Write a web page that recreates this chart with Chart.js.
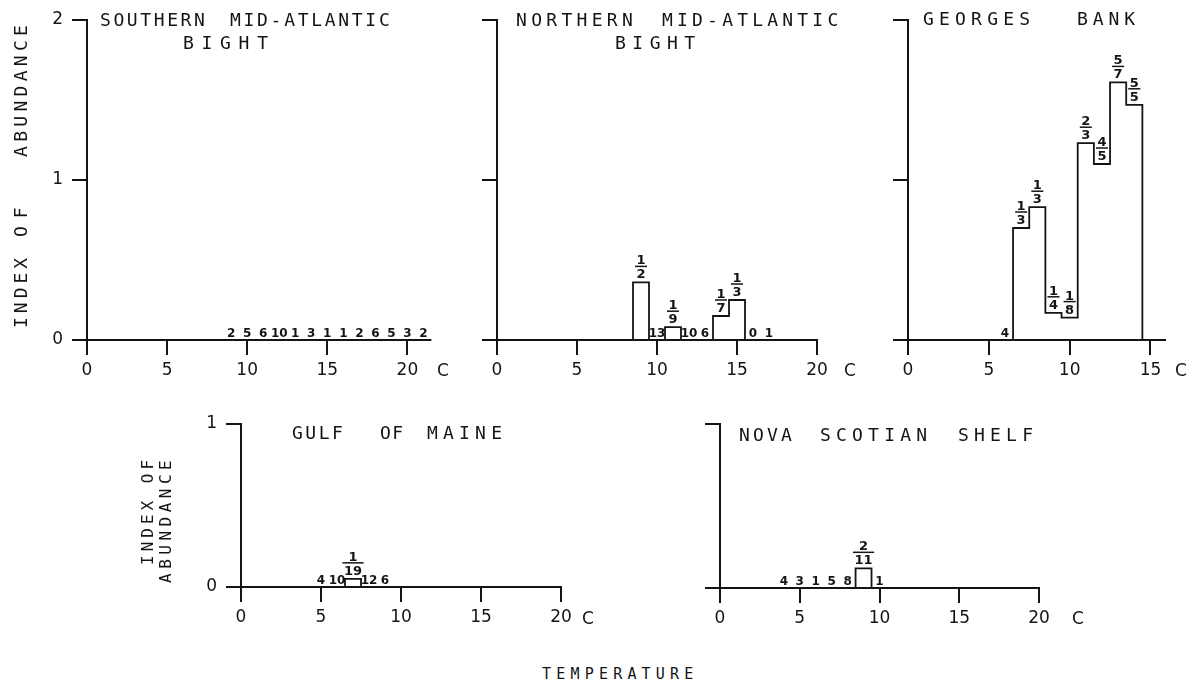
<!DOCTYPE html>
<html>
<head>
<meta charset="utf-8">
<script src="https://cdn.jsdelivr.net/npm/chart.js@4.4.1/dist/chart.umd.min.js"></script>
<style>
  body { margin: 0; background: #fff; }
  #fig { position: relative; width: 1187px; height: 684px; overflow: hidden; color: #141414; }
  canvas { position: absolute; }
  .w { position: absolute; white-space: pre; font-family: 'DejaVu Sans Mono', monospace; font-size: 18px; line-height: 18px; }
  .u { position: absolute; font-family: 'DejaVu Sans', sans-serif; font-size: 17px; line-height: 20px; transform: translateX(-50%); }
  .rot { position: absolute; left: 0; top: 0; transform-origin: 0 0; }
</style>
</head>
<body>
<div id="fig">
  <canvas id="sab"></canvas>
  <canvas id="nab"></canvas>
  <canvas id="gb"></canvas>
  <canvas id="gom"></canvas>
  <canvas id="nss"></canvas>

  <!-- panel titles -->
  <span class="w" style="left:100px;top:11px;letter-spacing:2.6px">SOUTHERN</span>
  <span class="w" style="left:230px;top:11px;letter-spacing:2.7px">MID-ATLANTIC</span>
  <span class="w" style="left:183px;top:34px;letter-spacing:7.7px">BIGHT</span>

  <span class="w" style="left:516px;top:11px;letter-spacing:4.3px">NORTHERN</span>
  <span class="w" style="left:662px;top:11px;letter-spacing:4.2px">MID-ATLANTIC</span>
  <span class="w" style="left:615px;top:34px;letter-spacing:6.5px">BIGHT</span>

  <span class="w" style="left:923px;top:10px;letter-spacing:5.2px">GEORGES</span>
  <span class="w" style="left:1077px;top:10px;letter-spacing:4.9px">BANK</span>

  <span class="w" style="left:292px;top:424px;letter-spacing:2.5px">GULF</span>
  <span class="w" style="left:380px;top:424px;letter-spacing:1.3px">OF</span>
  <span class="w" style="left:427px;top:424px;letter-spacing:5.2px">MAINE</span>

  <span class="w" style="left:739px;top:426px;letter-spacing:3.2px">NOVA</span>
  <span class="w" style="left:820px;top:426px;letter-spacing:5.2px">SCOTIAN</span>
  <span class="w" style="left:958px;top:426px;letter-spacing:5.2px">SHELF</span>

  <!-- axis titles -->
  <div class="rot" style="transform:translate(12px,328px) rotate(-90deg)">
    <span class="w" style="left:0;top:0;letter-spacing:4px">INDEX</span>
    <span class="w" style="left:91px;top:0;letter-spacing:8px">OF</span>
    <span class="w" style="left:171px;top:0;letter-spacing:4.3px">ABUNDANCE</span>
  </div>
  <div class="rot" style="transform:translate(139px,565px) rotate(-90deg)">
    <span class="w" style="left:0;top:0;font-size:16px;letter-spacing:4px">INDEX OF</span>
  </div>
  <div class="rot" style="transform:translate(157px,583px) rotate(-90deg)">
    <span class="w" style="left:0;top:0;font-size:16px;letter-spacing:4.5px">ABUNDANCE</span>
  </div>
  <span class="w" style="left:542px;top:665px;font-size:15px;letter-spacing:5.2px">TEMPERATURE</span>

  <!-- temperature unit after each x axis -->
  <span class="u" style="left:443px;top:360px">C</span>
  <span class="u" style="left:850px;top:360px">C</span>
  <span class="u" style="left:1181px;top:360px">C</span>
  <span class="u" style="left:588px;top:608px">C</span>
  <span class="u" style="left:1078px;top:608px">C</span>
</div>

<script>
// bin centre temperature (C), index of abundance, and the sample label printed over each bin
// (a plain number = tows with no catch, "a/b" = positive tows / total tows)
const sabTemp  = [9, 10, 11, 12, 13, 14, 15, 16, 17, 18, 19, 20, 21];
const sabIndex = [0, 0, 0, 0, 0, 0, 0, 0, 0, 0, 0, 0, 0];
const sabLabel = ['2', '5', '6', '10', '1', '3', '1', '1', '2', '6', '5', '3', '2'];

const nabTemp  = [9, 10, 11, 12, 13, 14, 15, 16, 17];
const nabIndex = [0.36, 0, 0.08, 0, 0, 0.15, 0.25, 0, 0];
const nabLabel = ['1/2', '13', '1/9', '10', '6', '1/7', '1/3', '0', '1'];

const gbTemp  = [6, 7, 8, 9, 10, 11, 12, 13, 14];
const gbIndex = [0, 0.70, 0.83, 0.17, 0.14, 1.23, 1.10, 1.61, 1.47];
const gbLabel = ['4', '1/3', '1/3', '1/4', '1/8', '2/3', '4/5', '5/7', '5/5'];

const gomTemp  = [5, 6, 7, 8, 9];
const gomIndex = [0, 0, 0.05, 0, 0];
const gomLabel = ['4', '10', '1/19', '12', '6'];

const nssTemp  = [4, 5, 6, 7, 8, 9, 10];
const nssIndex = [0, 0, 0, 0, 0, 0.12, 0];
const nssLabel = ['4', '3', '1', '5', '8', '2/11', '1'];

const ink = '#141414';
const AXIS_W = 87, AXIS_H = 60, PAD_T = 20, PAD_R = 25;
Chart.defaults.font.family = "'DejaVu Sans', sans-serif";
Chart.defaults.color = ink;

// labels over the bins: counts sit on the axis, fractions sit on the bar top
function binLabels(temps, index, labels) {
  return {
    id: 'binLabels',
    afterDatasetsDraw(chart) {
      const { ctx, scales: { x, y } } = chart;
      ctx.save();
      ctx.fillStyle = ink;
      ctx.strokeStyle = ink;
      ctx.textAlign = 'center';
      ctx.textBaseline = 'alphabetic';
      temps.forEach((t, i) => {
        const px = x.getPixelForValue(t);
        const py = y.getPixelForValue(index[i]);
        const lab = labels[i];
        if (lab.includes('/')) {
          const [num, den] = lab.split('/');
          ctx.font = "bold 13px 'DejaVu Sans'";
          const base = py - 4;
          ctx.fillText(den, px, base);
          const w = Math.max(ctx.measureText(num).width, ctx.measureText(den).width) + 3;
          ctx.lineWidth = 1.5;
          ctx.beginPath();
          ctx.moveTo(px - w / 2, base - 12);
          ctx.lineTo(px + w / 2, base - 12);
          ctx.stroke();
          ctx.fillText(num, px, base - 14);
        } else {
          ctx.font = "bold 12px 'DejaVu Sans'";
          ctx.fillText(lab, px, py - 3);
        }
      });
      ctx.restore();
    }
  };
}

function panel(id, temps, index, labels, lay) {
  const cv = document.getElementById(id);
  cv.width = lay.right - lay.left + AXIS_W + PAD_R;
  cv.height = lay.bottom - lay.top + PAD_T + AXIS_H;
  cv.style.left = (lay.left - AXIS_W) + 'px';
  cv.style.top = (lay.top - PAD_T) + 'px';

  // step outline of the histogram, bins 1 C wide
  const outline = [{ x: temps[0] - 0.5, y: 0 }];
  temps.forEach((t, i) => outline.push({ x: t - 0.5, y: index[i] }));
  outline.push({ x: temps[temps.length - 1] + 0.5, y: 0 });

  const grid = { drawOnChartArea: false, drawTicks: true, tickLength: 15, color: ink, lineWidth: 2 };
  const border = { display: true, color: ink, width: 2 };

  return new Chart(cv, {
    type: 'line',
    data: {
      datasets: [{
        data: outline,
        stepped: true,
        borderColor: ink,
        borderWidth: 1.8,
        pointRadius: 0,
        fill: false,
        clip: false
      }]
    },
    options: {
      responsive: false,
      animation: false,
      layout: { padding: { top: PAD_T, right: PAD_R, left: 0, bottom: 0 } },
      plugins: { legend: { display: false }, tooltip: { enabled: false } },
      scales: {
        x: {
          type: 'linear', min: 0, max: lay.xMax,
          grid, border,
          ticks: { stepSize: 5, includeBounds: false, padding: 5, maxRotation: 0, autoSkip: false,
                   font: { size: 17 }, color: ink },
          afterFit(s) { s.height = AXIS_H; }
        },
        y: {
          type: 'linear', min: 0, max: lay.yMax,
          grid, border,
          ticks: { stepSize: 1, display: lay.yLabels, padding: 9, font: { size: 17 }, color: ink },
          afterFit(s) { s.width = AXIS_W; }
        }
      }
    },
    plugins: [binLabels(temps, index, labels)]
  });
}

panel('sab', sabTemp, sabIndex, sabLabel, { left: 87,  right: 425,  top: 20,  bottom: 340, xMax: 21.1, yMax: 2, yLabels: true });
panel('nab', nabTemp, nabIndex, nabLabel, { left: 497, right: 817,  top: 20,  bottom: 340, xMax: 20,   yMax: 2, yLabels: false });
panel('gb',  gbTemp,  gbIndex,  gbLabel,  { left: 908, right: 1165, top: 20,  bottom: 340, xMax: 15.9, yMax: 2, yLabels: false });
panel('gom', gomTemp, gomIndex, gomLabel, { left: 241, right: 561,  top: 424, bottom: 587, xMax: 20,   yMax: 1, yLabels: true });
panel('nss', nssTemp, nssIndex, nssLabel, { left: 720, right: 1039, top: 424, bottom: 588, xMax: 20,   yMax: 1, yLabels: false });
</script>
</body>
</html>
